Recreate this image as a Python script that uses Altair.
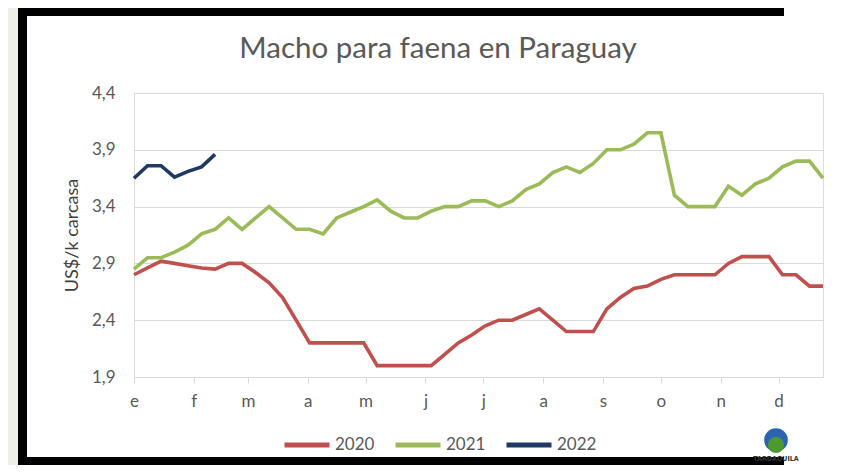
import json
import altair as alt
import pandas as pd

# ---------------- data ----------------
years = ["2020", "2021", "2022"]
colors = ["#C0504D", "#9BBB59", "#1F3864"]

# weekly observations (week index within the year)
v2020 = [2.80, 2.86, 2.92, 2.90, 2.88, 2.86, 2.85, 2.90, 2.90, 2.82,
         2.73, 2.60, 2.40, 2.20, 2.20, 2.20, 2.20, 2.20, 2.00, 2.00,
         2.00, 2.00, 2.00, 2.10, 2.20, 2.27, 2.35, 2.40, 2.40, 2.45,
         2.50, 2.40, 2.30, 2.30, 2.30, 2.50, 2.60, 2.68, 2.70, 2.76,
         2.80, 2.80, 2.80, 2.80, 2.90, 2.96, 2.96, 2.96, 2.80, 2.80,
         2.70, 2.70]
v2021 = [2.85, 2.95, 2.95, 3.00, 3.06, 3.16, 3.20, 3.30, 3.20, 3.30,
         3.40, 3.30, 3.20, 3.20, 3.16, 3.30, 3.35, 3.40, 3.46, 3.36,
         3.30, 3.30, 3.36, 3.40, 3.40, 3.45, 3.45, 3.40, 3.45, 3.55,
         3.60, 3.70, 3.75, 3.70, 3.78, 3.90, 3.90, 3.95, 4.05, 4.05,
         3.50, 3.40, 3.40, 3.40, 3.58, 3.50, 3.60, 3.65, 3.75, 3.80,
         3.80, 3.65]
v2022 = [3.65, 3.76, 3.76, 3.66, 3.71, 3.75, 3.86]

month_labels = ["e", "f", "m", "a", "m", "j", "j", "a", "s", "o", "n", "d"]
month_start_days = [0, 31, 59, 90, 120, 151, 181, 212, 243, 273, 304, 334]
y_ticks = [1.9, 2.4, 2.9, 3.4, 3.9, 4.4]
title_text = "Macho para faena en Paraguay"

rows = []
for yr, vals in zip(years, [v2020, v2021, v2022]):
    for w, v in enumerate(vals):
        rows.append({"year": yr, "day": 7 * w, "value": v})
df = pd.DataFrame(rows)

FONT = "Lato"
W, H = 689, 284

x_label_expr = "{}[indexof({}, datum.value)]".format(
    json.dumps(month_labels), json.dumps(month_start_days))

lines = alt.Chart(df).mark_line(strokeWidth=3.6).encode(
    x=alt.X("day:Q",
            scale=alt.Scale(domain=[0, 357], nice=False, zero=False),
            axis=alt.Axis(values=month_start_days, labelExpr=x_label_expr,
                          title=None, grid=False, domainColor="#D9D9D9",
                          tickColor="#D9D9D9", tickSize=6, labelPadding=10,
                          labelFontSize=17, labelFont=FONT,
                          labelColor="#595959", labelFlush=False)),
    y=alt.Y("value:Q",
            scale=alt.Scale(domain=[1.9, 4.4], nice=False, zero=False),
            axis=alt.Axis(values=y_ticks,
                          labelExpr="replace(format(datum.value, '.1f'), '.', ',')",
                          title="US$/k carcasa", grid=True, gridColor="#D9D9D9",
                          domain=False, ticks=False, labelPadding=19,
                          labelFontSize=17, labelFont=FONT, labelColor="#595959",
                          titleFontSize=18, titleFont=FONT, titleColor="#404040",
                          titleFontWeight="normal", titlePadding=10)),
    color=alt.Color("year:N",
                    scale=alt.Scale(domain=years, range=colors),
                    legend=alt.Legend(orient="none", legendX=148, legendY=327,
                                      direction="horizontal", title=None,
                                      symbolType="stroke", symbolSize=2025,
                                      symbolStrokeWidth=5, labelFontSize=17,
                                      labelFont=FONT, labelColor="#595959",
                                      labelOffset=3, columnPadding=10,
                                      padding=0)),
    detail="year:N",
)

one = alt.Data(values=[{}])

beige = alt.Chart(one).mark_rect(color="#EFEEE7").encode(
    x=alt.value(-126), x2=alt.value(-116), y=alt.value(-85), y2=alt.value(372))

border_top = alt.Chart(one).mark_rect(color="black").encode(
    x=alt.value(-116), x2=alt.value(650), y=alt.value(-85), y2=alt.value(-77))
border_left = alt.Chart(one).mark_rect(color="black").encode(
    x=alt.value(-116), x2=alt.value(-107), y=alt.value(-85), y2=alt.value(372))
border_bottom = alt.Chart(one).mark_rect(color="black").encode(
    x=alt.value(-116), x2=alt.value(650), y=alt.value(364), y2=alt.value(372))

title = alt.Chart(one).mark_text(text=title_text, fontSize=29.5, font=FONT,
                                 color="#595959", align="center",
                                 baseline="alphabetic").encode(
    x=alt.value(304), y=alt.value(-35))

logo_circle = alt.Chart(one).mark_point(filled=True, color="#2A64AE",
                                        size=560, opacity=1).encode(
    x=alt.value(642), y=alt.value(347))
logo_hill = alt.Chart(one).mark_point(filled=True, color="#4E9A2E",
                                      size=260, opacity=1, shape="circle").encode(
    x=alt.value(642), y=alt.value(352))
logo_text = alt.Chart(one).mark_text(text="TARDAQUILA", fontSize=7,
                                     fontWeight="bold", color="#333333",
                                     font="DejaVu Sans Condensed").encode(
    x=alt.value(642), y=alt.value(366))

chart = alt.layer(beige, border_top, border_left, border_bottom, title, lines,
                  logo_circle, logo_hill, logo_text).properties(
    width=W, height=H,
    autosize=alt.AutoSizeParams(type="none"),
    padding={"left": 126, "top": 85, "right": 12, "bottom": 88},
).configure_view(stroke=None).configure(background="white")

chart.save("out.html", embed_options={"renderer": "svg", "actions": False})
